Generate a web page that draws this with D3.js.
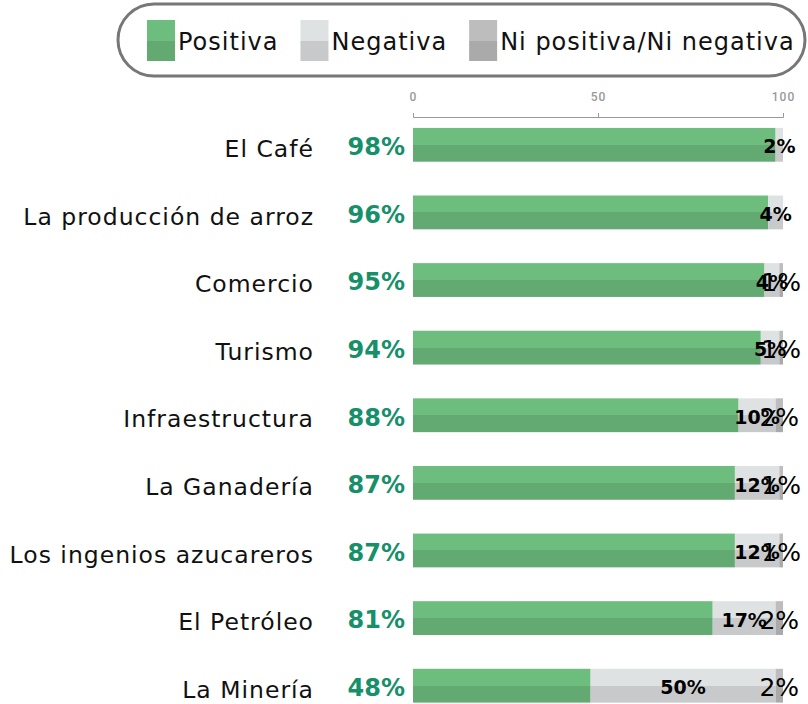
<!DOCTYPE html>
<html>
<head>
<meta charset="utf-8">
<script src="https://cdn.jsdelivr.net/npm/d3@7"></script>
<style>
  body { margin: 0; background: #fff; }
  svg { display: block; }
</style>
</head>
<body>
<svg id="chart" width="808" height="704"></svg>
<script>
var categories = ['El Café', 'La producción de arroz', 'Comercio', 'Turismo',
  'Infraestructura', 'La Ganadería', 'Los ingenios azucareros', 'El Petróleo', 'La Minería'];
var positiva = [98, 96, 95, 94, 88, 87, 87, 81, 48];
var negativa = [2, 4, 4, 5, 10, 12, 12, 17, 50];
var neutral = [0, 0, 1, 1, 2, 1, 1, 2, 2];
var seriesNames = ['Positiva', 'Negativa', 'Ni positiva/Ni negativa'];
var xTicks = [0, 50, 100];

var labelFont = '"DejaVu Sans", sans-serif';

var svg = d3.select('#chart'),
    width = +svg.attr('width');

var rows = categories.map(function(c, i) {
  return { cat: c, pos: positiva[i], neg: negativa[i], neu: neutral[i] };
});
var keys = ['pos', 'neg', 'neu'];
var stacked = d3.stack().keys(keys)(rows);

var x = d3.scaleLinear().domain([0, 100]).range([413, 783]);
var y = d3.scaleBand().domain(categories).range([111, 719.5])
    .paddingInner(0.5).paddingOuter(0.25);

// two-tone fills: lighter top half, darker bottom half
var tones = {
  pos: ['#6dbd7e', '#62a972'],
  neg: ['#dfe2e3', '#c8c9cb'],
  neu: ['#bdbdbd', '#aaaaaa']
};
var defs = svg.append('defs');
keys.forEach(function(k) {
  var g = defs.append('linearGradient')
      .attr('id', 'fill-' + k)
      .attr('x1', 0).attr('y1', 0).attr('x2', 0).attr('y2', 1);
  g.append('stop').attr('offset', '50%').attr('stop-color', tones[k][0]);
  g.append('stop').attr('offset', '50%').attr('stop-color', tones[k][1]);
});

// legend
var legend = svg.append('g').attr('class', 'legend');
legend.append('rect')
    .attr('x', 118).attr('y', 4)
    .attr('width', 687).attr('height', 72)
    .attr('rx', 36).attr('ry', 36)
    .style('fill', '#fff')
    .style('stroke', '#777')
    .style('stroke-width', 3);

var lx = 147;
keys.forEach(function(k, i) {
  legend.append('rect')
      .attr('x', lx).attr('y', 20)
      .attr('width', 28).attr('height', 41)
      .style('fill', 'url(#fill-' + k + ')');
  var t = legend.append('text')
      .attr('x', lx + 31).attr('y', 50)
      .style('font-family', labelFont)
      .style('font-size', '24px')
      .style('letter-spacing', '1px')
      .style('fill', '#111')
      .text(seriesNames[i]);
  lx += 31 + t.node().getComputedTextLength() + 22;
});

// axis
var axis = svg.append('g')
    .attr('transform', 'translate(0,117)')
    .call(d3.axisTop(x).tickValues(xTicks).tickSize(4).tickPadding(12));
axis.select('.domain').style('stroke', '#999');
axis.selectAll('.tick line').style('stroke', '#999');
axis.selectAll('.tick text')
    .style('fill', '#999')
    .style('font-family', 'Roboto, sans-serif')
    .style('font-size', '12px')
    .style('letter-spacing', '1px')
    .style('font-weight', 500);

// bars
svg.append('g').selectAll('g')
    .data(stacked)
  .enter().append('g')
    .style('fill', function(d) { return 'url(#fill-' + d.key + ')'; })
  .selectAll('rect')
    .data(function(d) { return d; })
  .enter().append('rect')
    .attr('x', function(d) { return x(d[0]); })
    .attr('y', function(d) { return y(d.data.cat); })
    .attr('width', function(d) { return x(d[1]) - x(d[0]); })
    .attr('height', y.bandwidth());

// category labels
svg.append('g').selectAll('text')
    .data(rows)
  .enter().append('text')
    .attr('x', 314)
    .attr('y', function(d) { return y(d.cat) + y.bandwidth() / 2 + 4; })
    .attr('dy', '0.35em')
    .attr('text-anchor', 'end')
    .style('font-family', labelFont)
    .style('font-size', '23.5px')
    .style('letter-spacing', '1px')
    .style('fill', '#111')
    .text(function(d) { return d.cat; });

// positive share, left of the bar
svg.append('g').selectAll('text')
    .data(rows)
  .enter().append('text')
    .attr('x', 405)
    .attr('y', function(d) { return y(d.cat) + y.bandwidth() / 2 + 2; })
    .attr('dy', '0.35em')
    .attr('text-anchor', 'end')
    .style('font-family', labelFont)
    .style('font-size', '24px')
    .style('font-weight', 'bold')
    .style('fill', '#17906a')
    .text(function(d) { return d.pos + '%'; });

// negative and neutral labels, centred on their segments
var segLabels = [
  { key: 'neg', weight: 'bold', size: '19px' },
  { key: 'neu', weight: 'normal', size: '25px' }
];
segLabels.forEach(function(s) {
  var layer = stacked[keys.indexOf(s.key)];
  svg.append('g').selectAll('text')
      .data(layer.filter(function(d) { return d[1] - d[0] > 0; }))
    .enter().append('text')
      .attr('x', function(d) { return x((d[0] + d[1]) / 2); })
      .attr('y', function(d) { return y(d.data.cat) + y.bandwidth() / 2 + 2; })
      .attr('dy', '0.35em')
      .attr('text-anchor', 'middle')
      .style('font-family', labelFont)
      .style('font-size', s.size)
      .style('font-weight', s.weight)
      .style('fill', '#000')
      .text(function(d) { return (d[1] - d[0]) + '%'; });
});
</script>
</body>
</html>
